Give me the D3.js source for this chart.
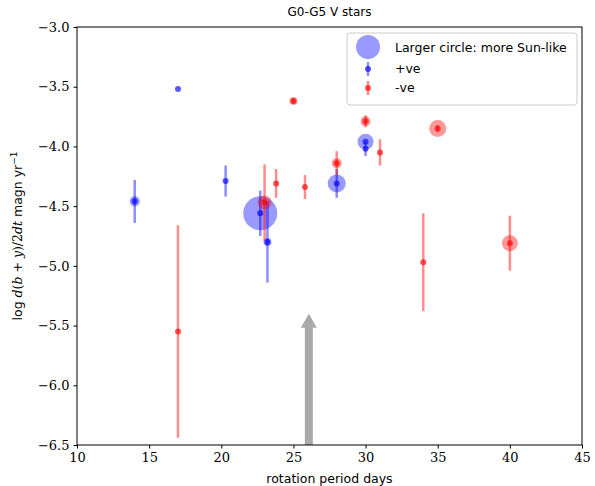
<!DOCTYPE html>
<html lang="en">
<head>
<meta charset="UTF-8">
<title>G0-G5 V stars</title>
<script src="https://d3js.org/d3.v7.min.js"></script>
<style>
  body { margin: 0; background: #fff; }
  svg text { fill: #000; }
</style>
</head>
<body>
<svg width="595" height="486"></svg>
<script>
// +ve (blue) stars
const posPeriod = [14.0, 17.0, 20.3, 22.7, 23.2, 28.0, 30.0, 30.0];
const posSlope  = [-4.46, -3.52, -4.29, -4.56, -4.80, -4.31, -3.96, -4.02];
const posErr    = [0.18, 0.0, 0.13, 0.19, 0.34, 0.12, 0.0, 0.06];
const posSun    = [5, 0, 0, 17, 4, 9, 8, 0];   // circle radius ~ "Sun-likeness"

// -ve (red) stars
const negPeriod = [17.0, 23.0, 23.8, 25.0, 25.8, 28.0, 30.0, 31.0, 34.0, 35.0, 40.0];
const negSlope  = [-5.55, -4.47, -4.31, -3.62, -4.34, -4.14, -3.79, -4.05, -4.97, -3.85, -4.81];
const negErr    = [0.89, 0.32, 0.12, 0.02, 0.10, 0.10, 0.05, 0.11, 0.41, 0.03, 0.23];
const negSun    = [0, 7, 0, 4, 0, 5, 5, 0, 0, 8.5, 8];

const xTicks = [10, 15, 20, 25, 30, 35, 40, 45];
const yTicks = [-3.0, -3.5, -4.0, -4.5, -5.0, -5.5, -6.0, -6.5];
const sunPeriod = 26;

const svg = d3.select("svg");
const margin = { top: 27, right: 13, bottom: 41, left: 77 };
const width = 595, height = 486;

const x = d3.scaleLinear().domain([10, 45]).range([margin.left, width - margin.right]);
const y = d3.scaleLinear().domain([-6.5, -3.0]).range([height - margin.bottom, margin.top]);

const serif = "'DejaVu Serif', 'Liberation Serif', serif";
const sans = "'DejaVu Sans', sans-serif";
const fmtY = d => d3.format(".1f")(d).replace("-", "\u2212");

// sun arrow
const ax = x(sunPeriod) + 1, tip = y(-5.4), base = y(-6.5);
svg.append("path")
    .attr("d", `M${ax - 4},${base} L${ax - 4},${tip + 14} L${ax - 8},${tip + 14} L${ax},${tip} L${ax + 8},${tip + 14} L${ax + 4},${tip + 14} L${ax + 4},${base} Z`)
    .attr("fill", "#aaaaaa");

function drawSeries(px, py, pe, ps, color) {
    const g = svg.append("g");
    const idx = d3.range(px.length);
    g.selectAll("circle.big").data(idx.filter(i => ps[i] > 0)).enter().append("circle")
        .attr("cx", i => x(px[i])).attr("cy", i => y(py[i]))
        .attr("r", i => ps[i])
        .attr("fill", color).attr("fill-opacity", 0.4);
    g.selectAll("line.err").data(idx.filter(i => pe[i] > 0)).enter().append("line")
        .attr("x1", i => x(px[i])).attr("x2", i => x(px[i]))
        .attr("y1", i => y(py[i] - pe[i])).attr("y2", i => y(py[i] + pe[i]))
        .attr("stroke", color).attr("stroke-opacity", 0.45).attr("stroke-width", 2.5);
    g.selectAll("circle.dot").data(idx).enter().append("circle")
        .attr("cx", i => x(px[i])).attr("cy", i => y(py[i]))
        .attr("r", 3)
        .attr("fill", color).attr("fill-opacity", 0.65);
}
drawSeries(posPeriod, posSlope, posErr, posSun, "#0000ff");
drawSeries(negPeriod, negSlope, negErr, negSun, "#ff0000");

// axes
const xAxis = svg.append("g")
    .attr("transform", `translate(0,${height - margin.bottom})`)
    .call(d3.axisBottom(x).tickValues(xTicks).tickSize(3.5).tickPadding(4).tickFormat(d3.format("d")).tickSizeOuter(0));
const yAxis = svg.append("g")
    .attr("transform", `translate(${margin.left},0)`)
    .call(d3.axisLeft(y).tickValues(yTicks).tickSize(3.5).tickPadding(4).tickFormat(fmtY).tickSizeOuter(0));
[xAxis, yAxis].forEach(a => {
    a.selectAll("text").style("font-family", serif).style("font-size", "13px");
    a.select(".domain").remove();
});

svg.append("rect")
    .attr("x", margin.left).attr("y", margin.top)
    .attr("width", width - margin.left - margin.right)
    .attr("height", height - margin.top - margin.bottom)
    .attr("fill", "none").attr("stroke", "#000").attr("stroke-width", 1);

// title + labels
svg.append("text").attr("x", (margin.left + width - margin.right) / 2).attr("y", 16)
    .attr("text-anchor", "middle").style("font-family", sans).style("font-size", "12px")
    .text("G0-G5 V stars");
svg.append("text").attr("x", (margin.left + width - margin.right) / 2).attr("y", 483)
    .attr("text-anchor", "middle").style("font-family", sans).style("font-size", "12.5px")
    .text("rotation period days");

const yl = svg.append("text")
    .attr("transform", `translate(22,${(margin.top + height - margin.bottom) / 2}) rotate(-90)`)
    .attr("text-anchor", "middle").style("font-family", sans).style("font-size", "12.5px");
yl.append("tspan").text("log ");
yl.append("tspan").style("font-family", serif).style("font-style", "italic").text("d");
yl.append("tspan").style("font-family", serif).text("(");
yl.append("tspan").style("font-family", serif).style("font-style", "italic").text("b");
yl.append("tspan").style("font-family", serif).text(" + ");
yl.append("tspan").style("font-family", serif).style("font-style", "italic").text("y");
yl.append("tspan").style("font-family", serif).text(")/2");
yl.append("tspan").style("font-family", serif).style("font-style", "italic").text("dt");
yl.append("tspan").text(" magn yr");
yl.append("tspan").attr("dy", -5).style("font-size", "9px").text("\u22121");

// legend
const lg = svg.append("g").attr("transform", "translate(347,33)");
lg.append("rect").attr("width", 230).attr("height", 72).attr("rx", 3)
    .attr("fill", "#fff").attr("fill-opacity", 0.8).attr("stroke", "#cccccc");
lg.append("circle").attr("cx", 21).attr("cy", 14).attr("r", 12).attr("fill", "#0000ff").attr("fill-opacity", 0.4);
const legendItems = [["Larger circle:  more Sun-like", null, 19], ["+ve", "#0000ff", 40], ["\u2011ve", "#ff0000", 59]];
legendItems.forEach(([label, c, ty]) => {
    if (c) {
        lg.append("line").attr("x1", 21).attr("x2", 21).attr("y1", ty - 11).attr("y2", ty + 3)
            .attr("stroke", c).attr("stroke-opacity", 0.45).attr("stroke-width", 2.5);
        lg.append("circle").attr("cx", 21).attr("cy", ty - 4).attr("r", 3).attr("fill", c).attr("fill-opacity", 0.65);
    }
    lg.append("text").attr("x", 48).attr("y", ty).style("font-family", sans).style("font-size", "12.5px").text(label);
});
</script>
</body>
</html>
